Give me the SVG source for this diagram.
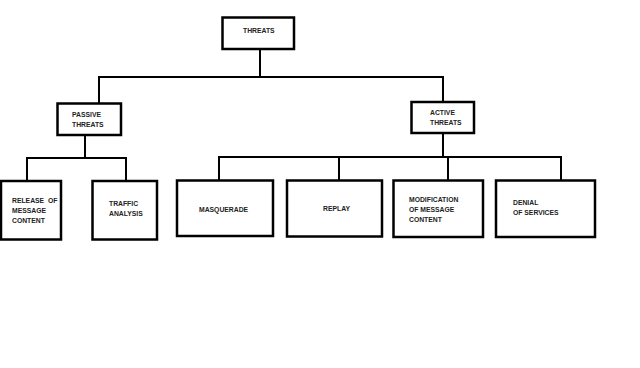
<svg xmlns="http://www.w3.org/2000/svg" width="640" height="368" viewBox="0 0 640 368">
<style>
.box{fill:#fff;stroke:#000;stroke-width:2.5}
.ln{fill:none;stroke:#000;stroke-width:2}
text{font-family:"Liberation Sans",Arial,sans-serif;font-size:6.8px;font-weight:bold;fill:#222}
</style>
<rect width="640" height="368" fill="#fff"/>
<g id="connectors">
<polyline class="ln" points="260,49 260,77"/>
<polyline class="ln" points="99,103 99,77 443,77 443,102"/>
<polyline class="ln" points="85,135 85,158"/>
<polyline class="ln" points="27,181 27,158 126,158 126,181"/>
<polyline class="ln" points="443,133 443,157"/>
<polyline class="ln" points="219,180 219,157 561,157 561,180"/>
<polyline class="ln" points="339,157 339,180"/>
<polyline class="ln" points="448,157 448,180"/>
</g>
<g id="threats"><rect class="box" x="222.5" y="17.5" width="71.5" height="31.5"/><text x="243" y="33">THREATS</text></g>
<g id="passive"><rect class="box" x="57.5" y="103.5" width="63.5" height="31.5"/><text x="72" y="117">PASSIVE</text><text x="72" y="127">THREATS</text></g>
<g id="active"><rect class="box" x="411.5" y="102" width="62.5" height="31"/><text x="430" y="115">ACTIVE</text><text x="430" y="125">THREATS</text></g>
<g id="release"><rect class="box" x="1" y="181" width="60" height="58.5"/><text x="12" y="203" xml:space="preserve">RELEASE  OF</text><text x="12" y="213">MESSAGE</text><text x="12" y="223">CONTENT</text></g>
<g id="traffic"><rect class="box" x="92.5" y="181" width="64.5" height="58.5"/><text x="109" y="206">TRAFFIC</text><text x="109" y="216">ANALYSIS</text></g>
<g id="masquerade"><rect class="box" x="177" y="180.5" width="96" height="55.5"/><text x="199" y="211.5">MASQUERADE</text></g>
<g id="replay"><rect class="box" x="287" y="180.5" width="95" height="56"/><text x="323" y="211">REPLAY</text></g>
<g id="modification"><rect class="box" x="393.5" y="180.5" width="89.5" height="56.5"/><text x="409" y="202">MODIFICATION</text><text x="409" y="212">OF MESSAGE</text><text x="409" y="222">CONTENT</text></g>
<g id="denial"><rect class="box" x="496" y="180.5" width="99" height="56.5"/><text x="513" y="205">DENIAL</text><text x="513" y="215">OF SERVICES</text></g>
</svg>
